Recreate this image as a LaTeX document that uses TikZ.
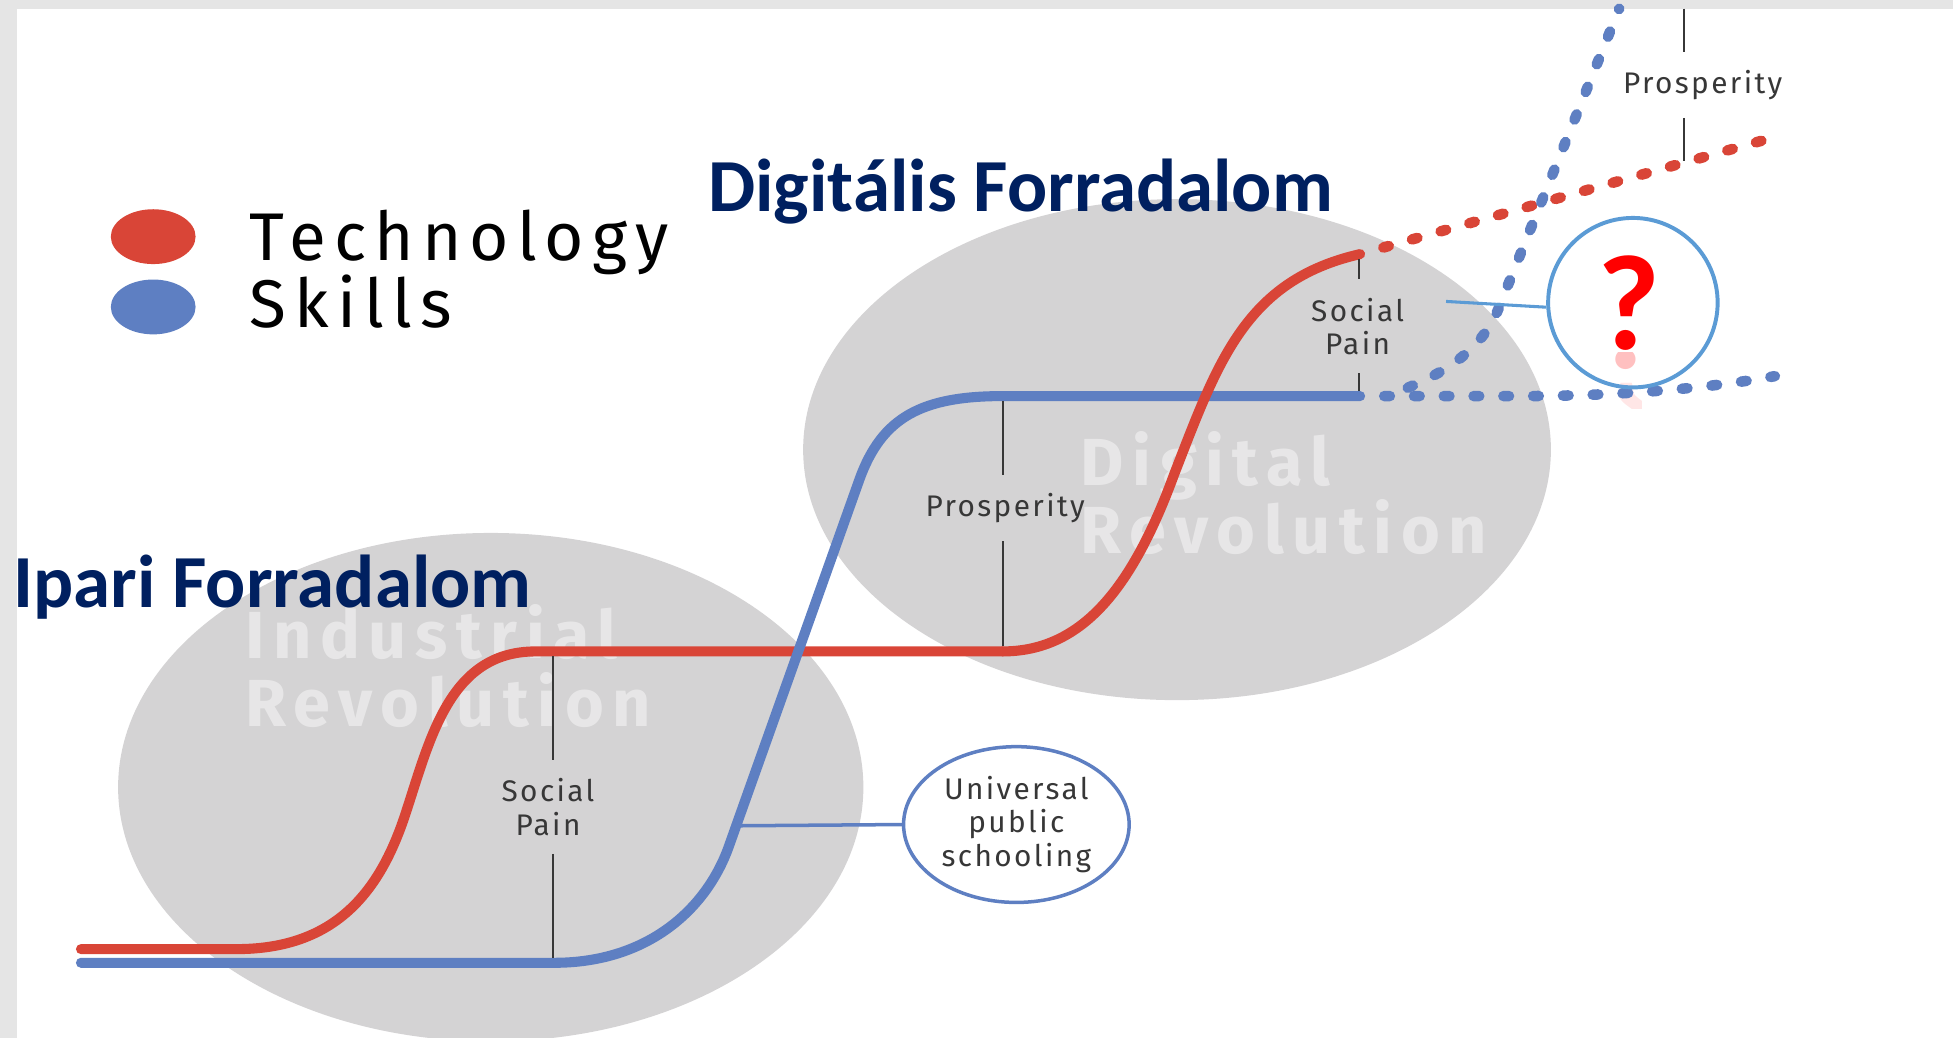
\documentclass[tikz,border=0pt]{standalone}
\usepackage{graphicx}
\usepackage{fontspec}
\setmainfont{Fira Sans}
\newfontfamily\legendfont{Fira Sans}[LetterSpace=12]
\newfontfamily\notefont{Fira Sans}[LetterSpace=8]
\newfontfamily\ghostfont{Fira Sans}[LetterSpace=13]
\newfontfamily\titlefont{Carlito}
\usetikzlibrary{positioning,shapes.geometric}

\definecolor{techred}{RGB}{217,69,55}
\definecolor{skillblue}{RGB}{94,127,194}
\definecolor{linkblue}{RGB}{91,155,213}
\definecolor{bubblegray}{RGB}{212,211,212}
\definecolor{navy}{RGB}{0,32,96}
\definecolor{framegray}{RGB}{229,229,229}
\definecolor{notegray}{RGB}{55,55,55}
\definecolor{qred}{RGB}{255,0,0}
\definecolor{qpink}{RGB}{255,130,130}

\tikzset{
    bubble/.style={
           fill=bubblegray,
           draw=none,
           },
    curve/.style={
           line width=2.3pt,
           line cap=round,
           },
    dotcurve/.style={
           line width=2.4pt,
           line cap=round,
           dash pattern=on 1.3pt off 5.5pt,
           dash phase=1.3pt,
           },
    tick/.style={
           draw=notegray,
           line width=0.5pt,
           },
    note/.style={
           text=notegray,
           align=center,
           inner xsep=2pt,
           inner ysep=4pt,
           font=\notefont\fontsize{6.8}{7.6}\selectfont,
           },
    ghost/.style={
           anchor=base west,
           inner sep=0pt,
           text=white,
           text opacity=0.45,
           font=\ghostfont\bfseries\fontsize{15.2}{16}\selectfont,
           },
    legendtext/.style={
           anchor=base west,
           inner sep=0pt,
           text=black,
           font=\legendfont\fontsize{15.4}{18}\selectfont,
           },
    legenddot/.style={
           ellipse,
           draw=none,
           minimum width=0.68cm,
           minimum height=0.44cm,
           inner sep=0pt,
           },
    heading/.style={
           anchor=base west,
           inner sep=0pt,
           text=navy,
           font=\titlefont\bfseries\fontsize{17.1}{20}\selectfont,
           },
    qmark/.style={
           inner sep=0pt,
           font=\titlefont\bfseries\fontsize{31}{31}\selectfont,
           },
}

\begin{document}
\begin{tikzpicture}[x=0.01cm,y=-0.01cm]
 \useasboundingbox (0,0) rectangle (1568,833);
 % window frame
 \fill[framegray] (0,0) rectangle (14,833);
 \fill[framegray] (0,0) rectangle (1568,7);

 % the two revolutions
 \fill[bubble] (394,632) ellipse [x radius=2.99cm, y radius=2.04cm];
 \fill[bubble] (945,361) ellipse [x radius=3.00cm, y radius=2.01cm];
 \node[ghost] (indword) at (196,529) {Industrial};
 \node[ghost] (indrev)  at (196,583) {Revolution};
 \node[ghost] (digword) at (867,390) {Digital};
 \node[ghost] (digrev)  at (867,444) {Revolution};

 % legend
 \node[legenddot, fill=techred] (techdot) at (123,190) {};
 \node[legenddot, fill=skillblue, below=0.11cm of techdot] (skilldot) {};
 \node[legendtext] (techtext)  at (200,209) {Technology};
 \node[legendtext] (skilltext) at (200,263) {Skills};

 % headings
 \node[heading] (digitalhead) at (568,170) {Digitális Forradalom};
 \node[heading] (iparihead)   at (10,488)  {Ipari Forradalom};

 % curves
 \coordinate (techend)  at (1092,204);
 \coordinate (skillend) at (1092,318);
 \draw[curve, techred] (65,762) -- (190,762)
   .. controls (270,762) and (305,715) .. (325,655)
   .. controls (345,595) and (360,523) .. (430,523) -- (805,523);
 \draw[curve, skillblue] (65,773) -- (445,773)
   .. controls (520,773) and (567,730) .. (585,680) -- (690,385)
   .. controls (708,335) and (740,318) .. (805,318) -- (skillend);
 \draw[curve, techred] (805,523)
   .. controls (870,523) and (910,470) .. (943,380)
   .. controls (978,290) and (1000,225) .. (techend);

 % future
 \begin{scope}
   \clip (1296,283) rectangle (1318,301);
   \node[qmark, text=qpink, text opacity=0.5] (qmirror) at (1308,319)
     {\scalebox{1}[-1]{?}};
 \end{scope}
 \begin{scope}
   \clip (1296,301) rectangle (1318,328);
   \node[qmark, text=qpink, text opacity=0.2] (qmirrorb) at (1308,319)
     {\scalebox{1}[-1]{?}};
 \end{scope}
 \draw[dotcurve, techred] (techend) -- (1425,110);
 \draw[dotcurve, skillblue] (skillend) -- (1220,318)
   .. controls (1300,318) and (1370,312) .. (1425,302);
 \draw[dotcurve, skillblue] (1112,318)
   .. controls (1160,302) and (1190,280) .. (1203,248) -- (1300,7);

 % labels
 \node[note] (painA) at (440,648) {Social\\Pain};
 \coordinate (painAtop) at (444,527);
 \coordinate (painAbot) at (444,769);
 \draw[tick] (painAtop) -- (painAtop |- painA.north);
 \draw[tick] (painAbot |- painA.south) -- (painAbot);

 \node[note] (prosA) at (807,408) {Prosperity};
 \coordinate (prosAtop) at (805,322);
 \coordinate (prosAbot) at (805,519);
 \draw[tick] (prosAtop) -- (prosAtop |- prosA.north);
 \draw[tick] (prosAbot |- prosA.south) -- (prosAbot);

 \node[note] (painB) at (1090,262) {Social\\Pain};
 \coordinate (painBtop) at (1091,208);
 \coordinate (painBbot) at (1091,314);
 \draw[tick] (painBtop) -- (painBtop |- painB.north);
 \draw[tick] (painBbot |- painB.south) -- (painBbot);

 \node[note] (prosB) at (1367,68) {Prosperity};
 \coordinate (prosBtop) at (1352,7);
 \coordinate (prosBbot) at (1352,129);
 \draw[tick] (prosBtop) -- (prosBtop |- prosB.north);
 \draw[tick] (prosBbot |- prosB.south) -- (prosBbot);

 % schooling
 \node[note, ellipse, draw=skillblue, line width=0.8pt,
   minimum width=1.81cm, minimum height=1.25cm, inner sep=0pt] (school)
   at (816,662) {Universal\\public\\schooling};
 \coordinate (schoolfoot) at (591,663);
 \draw[skillblue, line width=0.8pt] (schoolfoot) -- (school.west);

 % question
 \node[circle, draw=linkblue, line width=0.9pt, minimum size=1.36cm,
   inner sep=0pt] (qcircle) at (1311,243) {};
 \node[qmark, text=qred] (qm) at (1308,243) {?};
 \coordinate (painBlink) at (1161,242);
 \draw[linkblue, line width=0.7pt] (painBlink) -- (qcircle.183);
\end{tikzpicture}
\end{document}
